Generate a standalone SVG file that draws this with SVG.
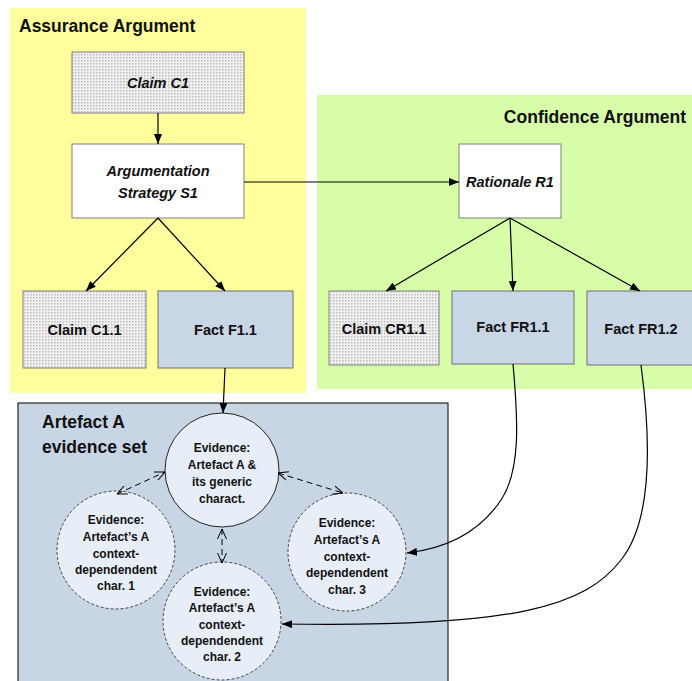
<svg xmlns="http://www.w3.org/2000/svg" width="692" height="681" viewBox="0 0 692 681">
<style>
text{font-family:"Liberation Sans",Arial,sans-serif;font-weight:bold;fill:#111;text-anchor:middle}
.title{font-size:17.5px;text-anchor:start}
.box{font-size:14.5px}
.it{font-style:italic}
.ev{font-size:12px}
.claim{fill:url(#dots);stroke:#808080;stroke-width:1}
.plain{fill:#fff;stroke:#808080;stroke-width:1}
.fact{fill:#c9d6e6;stroke:#6f6f6f;stroke-width:1}
.cir{fill:#e8eef8;stroke:#222;stroke-width:1}
.dcir{fill:#e8eef8;stroke:#333;stroke-width:0.9;stroke-dasharray:3 2}
.con{fill:none;stroke:#000;stroke-width:1.2;marker-end:url(#ah)}
.dash{fill:none;stroke:#000;stroke-width:1;stroke-dasharray:6 4;marker-start:url(#ov);marker-end:url(#ov)}
</style>
<defs>
<pattern id="dots" width="3" height="3" patternUnits="userSpaceOnUse">
<rect width="3" height="3" fill="#f0f0f0"/>
<rect width="1.5" height="1.5" fill="#bdbdbd"/>
</pattern>
<marker id="ah" viewBox="0 0 10 8" refX="10" refY="4" markerWidth="10" markerHeight="8" markerUnits="userSpaceOnUse" orient="auto-start-reverse">
<path d="M0,0 L10,4 L0,8 Z" fill="#000"/>
</marker>
<marker id="ov" viewBox="0 0 10 10" refX="10" refY="5" markerWidth="10" markerHeight="10" markerUnits="userSpaceOnUse" orient="auto-start-reverse">
<path d="M0,0.5 L10,5 L0,9.5" fill="none" stroke="#000" stroke-width="1"/>
</marker>
</defs>
<rect width="692" height="681" fill="#fff"/>
<g id="assurance-panel">
<rect x="10" y="8" width="296" height="385" fill="#ffff9e"/>
<text class="title" x="19" y="32">Assurance Argument</text>
</g>
<g id="confidence-panel">
<rect x="317" y="95" width="380" height="294" fill="#d7fda8"/>
<text class="title" x="686" y="123" style="text-anchor:end">Confidence Argument</text>
</g>
<g id="artefact-panel">
<rect x="18" y="403" width="430" height="290" fill="#c8d5e5" stroke="#000" stroke-width="1"/>
<text class="title" x="42" y="428">Artefact A</text>
<text class="title" x="42" y="453">evidence set</text>
</g>
<g id="claim-c1">
<rect class="claim" x="72" y="52" width="172" height="61"/>
<text class="box it" x="158" y="88">Claim C1</text>
</g>
<g id="strategy-s1">
<rect class="plain" x="72" y="144" width="172" height="74"/>
<text class="box it" x="158" y="176">Argumentation</text>
<text class="box it" x="158" y="198">Strategy S1</text>
</g>
<g id="claim-c1-1">
<rect class="claim" x="23" y="291" width="123" height="77"/>
<text class="box" x="84.5" y="335">Claim C1.1</text>
</g>
<g id="fact-f1-1">
<rect class="fact" x="158" y="291" width="135" height="77"/>
<text class="box" x="225.5" y="335">Fact F1.1</text>
</g>
<g id="rationale-r1">
<rect class="plain" x="459" y="144" width="102" height="74"/>
<text class="box it" x="510" y="187">Rationale R1</text>
</g>
<g id="claim-cr1-1">
<rect class="claim" x="329" y="291" width="110" height="74"/>
<text class="box" x="384" y="334">Claim CR1.1</text>
</g>
<g id="fact-fr1-1">
<rect class="fact" x="452" y="291" width="122" height="73"/>
<text class="box" x="513" y="332">Fact FR1.1</text>
</g>
<g id="fact-fr1-2">
<rect class="fact" x="587" y="291" width="108" height="74"/>
<text class="box" x="641" y="334">Fact FR1.2</text>
</g>
<g id="evidence-generic">
<circle class="cir" cx="222" cy="470" r="57"/>
<text class="ev" x="222" y="452">Evidence:</text>
<text class="ev" x="222" y="469">Artefact A &amp;</text>
<text class="ev" x="222" y="486">its generic</text>
<text class="ev" x="222" y="503">charact.</text>
</g>
<g id="evidence-char1">
<circle class="dcir" cx="116" cy="550" r="59"/>
<text class="ev" x="116" y="524">Evidence:</text>
<text class="ev" x="116" y="541">Artefact’s A</text>
<text class="ev" x="116" y="558">context-</text>
<text class="ev" x="116" y="574">dependendent</text>
<text class="ev" x="116" y="590">char. 1</text>
</g>
<g id="evidence-char3">
<circle class="dcir" cx="347" cy="552" r="59"/>
<text class="ev" x="347" y="527">Evidence:</text>
<text class="ev" x="347" y="544">Artefact’s A</text>
<text class="ev" x="347" y="561">context-</text>
<text class="ev" x="347" y="577">dependendent</text>
<text class="ev" x="347" y="594">char. 3</text>
</g>
<g id="evidence-char2">
<circle class="dcir" cx="222" cy="621" r="59"/>
<text class="ev" x="222" y="596">Evidence:</text>
<text class="ev" x="222" y="612">Artefact’s A</text>
<text class="ev" x="222" y="629">context-</text>
<text class="ev" x="222" y="645">dependendent</text>
<text class="ev" x="222" y="661">char. 2</text>
</g>
<g id="connectors">
<path class="con" d="M158,113 L158,144"/>
<path class="con" d="M244,182 L459,182"/>
<path class="con" d="M158,218 L86,291"/>
<path class="con" d="M158,218 L225,291"/>
<path class="con" d="M510,218 L386,291"/>
<path class="con" d="M510,218 L513,291"/>
<path class="con" d="M510,218 L640,291"/>
<path class="con" d="M225,368 L223,413"/>
<path class="con" d="M513,364 C518,420 521,470 501,500 C481,530 450,548 407,553"/>
<path class="con" d="M641,365 C651,440 653,520 621,560 C586,605 520,628 282,624"/>
<path class="dash" d="M117,494 L165,472"/>
<path class="dash" d="M278,473 L343,493"/>
<path class="dash" d="M222,529 L222,563"/>
</g>
</svg>
